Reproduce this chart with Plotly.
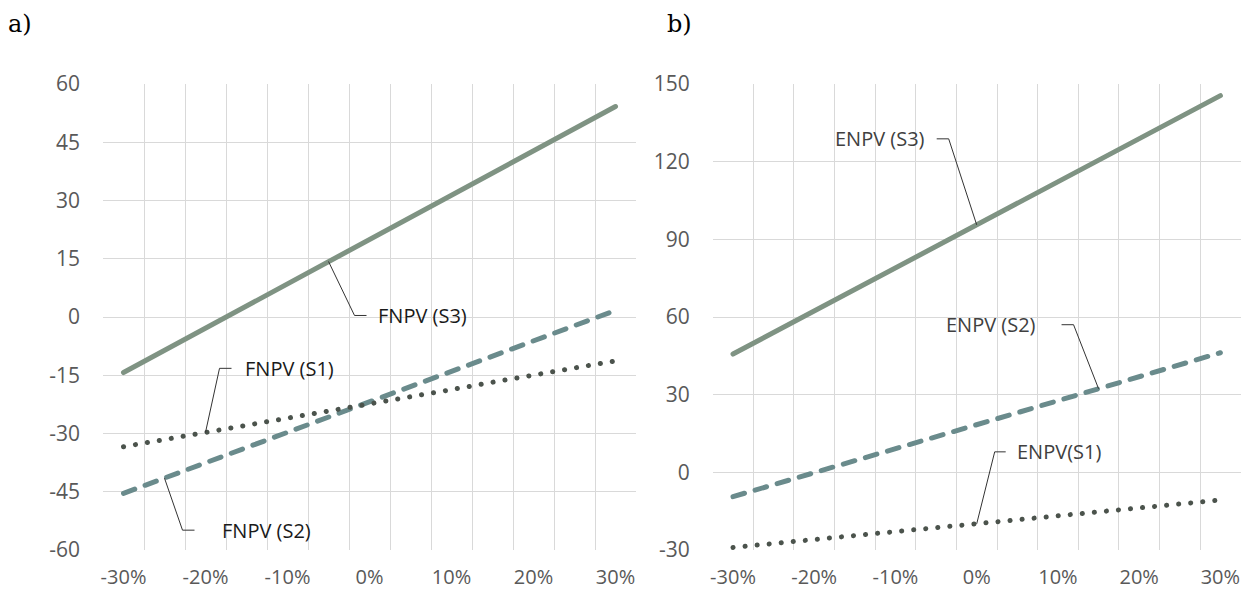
import plotly.graph_objects as go

# Sensitivity of the discount-rate change (-30% .. +30%, step 5%)
categories = ["-30%", "-25%", "-20%", "-15%", "-10%", "-5%", "0%",
              "5%", "10%", "15%", "20%", "25%", "30%"]
x_idx = list(range(len(categories)))

# Panel a) financial NPV
fnpv_s1 = [-33.4, -31.6, -29.7, -27.9, -26.0, -24.2, -22.4, -20.5, -18.7, -16.8, -15.0, -13.1, -11.3]
fnpv_s2 = [-45.4, -41.5, -37.6, -33.6, -29.7, -25.8, -21.9, -17.9, -14.0, -10.1, -6.2, -2.2, 1.7]
fnpv_s3 = [-14.3, -8.6, -2.9, 2.8, 8.5, 14.3, 20.0, 25.7, 31.4, 37.1, 42.8, 48.5, 54.2]

# Panel b) economic NPV
enpv_s1 = [-29.0, -27.5, -26.0, -24.4, -22.9, -21.4, -19.9, -18.3, -16.8, -15.3, -13.8, -12.2, -10.7]
enpv_s2 = [-9.4, -4.8, -0.1, 4.5, 9.1, 13.8, 18.4, 23.0, 27.7, 32.3, 36.9, 41.6, 46.2]
enpv_s3 = [45.7, 54.0, 62.3, 70.7, 79.0, 87.3, 95.6, 103.9, 112.2, 120.6, 128.9, 137.2, 145.5]

# Axis ticks
x_tick_idx = [0, 2, 4, 6, 8, 10, 12]
x_tick_text = [categories[i] for i in x_tick_idx]
ya_ticks = [-60, -45, -30, -15, 0, 15, 30, 45, 60]
ya_text = ["-60", "-45", "-30", "-15", "0", "15", "30", "45", "60"]
yb_ticks = [-30, 0, 30, 60, 90, 120, 150]
yb_text = ["-30", "0", "30", "60", "90", "120", "150"]

COL_S1 = "#4b534c"
COL_S2 = "#6a8b8c"
COL_S3 = "#7f9383"
GRID = "#d9d9d9"
TICK = "#595959"
FONT = "Open Sans"

fig = go.Figure()


def add_series(xa, ya, s1, s2, s3):
    fig.add_trace(go.Scatter(x=x_idx, y=s3, mode="lines", xaxis=xa, yaxis=ya,
                             line=dict(color=COL_S3, width=5)))
    fig.add_trace(go.Scatter(x=x_idx, y=s2, mode="lines", xaxis=xa, yaxis=ya,
                             line=dict(color=COL_S2, width=5, dash="12px,11px")))
    fig.add_trace(go.Scatter(x=x_idx, y=s1, mode="lines", xaxis=xa, yaxis=ya,
                             line=dict(color=COL_S1, width=5, dash="0.1px,12px")))


add_series("x", "y", fnpv_s1, fnpv_s2, fnpv_s3)
add_series("x2", "y2", enpv_s1, enpv_s2, enpv_s3)


def xaxis_cfg(domain, anchor):
    return dict(domain=domain, anchor=anchor, range=[-0.5, 12.5], automargin=False,
                tickmode="array", tickvals=x_tick_idx, ticktext=x_tick_text,
                showgrid=False, zeroline=False, showline=False, ticks="",
                ticklabelstandoff=13,
                tickfont=dict(family=FONT, size=20, color=TICK),
                minor=dict(tickmode="linear", tick0=-0.5, dtick=1,
                           showgrid=True, gridcolor=GRID, gridwidth=1.3, ticks=""))


def yaxis_cfg(domain, anchor, rng, ticks, text):
    return dict(domain=domain, anchor=anchor, range=rng, automargin=False,
                tickmode="array", tickvals=ticks, ticktext=text,
                showgrid=True, gridcolor=GRID, gridwidth=1.3,
                zeroline=False, showline=False, ticks="",
                ticklabelstandoff=22,
                tickfont=dict(family=FONT, size=21, color=TICK))


W, H = 1248, 593
y_dom = [1 - 550 / H, 1 - 84 / H]
fig.update_layout(
    width=W, height=H, margin=dict(l=0, r=0, t=0, b=0, autoexpand=False),
    paper_bgcolor="white", plot_bgcolor="white", showlegend=False,
    xaxis=xaxis_cfg([103 / W, 636 / W], "y"),
    yaxis=yaxis_cfg(y_dom, "x", [-60, 60], ya_ticks, ya_text),
    xaxis2=xaxis_cfg([712.7 / W, 1240.7 / W], "y2"),
    yaxis2=yaxis_cfg(y_dom, "x2", [-30, 150], yb_ticks, yb_text),
)

# Leader lines with an elbow, anchored on a data point; offsets in pixels (up = +)
labels = [
    # (xref, yref, series, index, elbow dx, elbow dy, end dx, text, side, text dx, text colour)
    ("x", "y", fnpv_s3, 5, 26, -54, 38, "FNPV (S3)", "left", 47, "#1a1a1a"),
    ("x", "y", fnpv_s1, 2, 14, 64, 26, "FNPV (S1)", "left", 37, "#1a1a1a"),
    ("x", "y", fnpv_s2, 1, 18, -52, 30, "FNPV (S2)", "left", 55, "#1a1a1a"),
    ("x2", "y2", enpv_s3, 6, -28, 86, -40, "ENPV (S3)", "right", -50, "#404040"),
    ("x2", "y2", enpv_s2, 9, -25, 64, -37, "ENPV (S2)", "right", -61, "#404040"),
    ("x2", "y2", enpv_s1, 6, 18, 72, 29, "ENPV(S1)", "left", 38, "#404040"),
]
for xr, yr, series, i, ex, ey, endx, text, side, tdx, tcol in labels:
    fig.add_shape(type="path", xref=xr, yref=yr,
                  xsizemode="pixel", ysizemode="pixel",
                  xanchor=x_idx[i], yanchor=series[i],
                  path=f"M0,0 L{ex},{ey} L{endx},{ey}",
                  line=dict(color="#333333", width=1))
    fig.add_annotation(x=x_idx[i], y=series[i], xref=xr, yref=yr,
                       text=text, showarrow=False, xanchor=side, yanchor="middle",
                       xshift=tdx, yshift=ey,
                       font=dict(family=FONT, size=20, color=tcol))

# Panel letters
for px, letter in [(6, "a)"), (665, "b)")]:
    fig.add_annotation(x=px / W, y=1 - 24 / H, xref="paper", yref="paper",
                       text=letter, showarrow=False, xanchor="left", yanchor="middle",
                       font=dict(family="DejaVu Serif", size=24, color="#000000"))

# Rounded caps so the dashes and dots come out as pills and round dots
round_caps = """
var gd = document.getElementById('{plot_id}');
function roundCaps() {
  gd.querySelectorAll('.scatterlayer .js-line').forEach(function (p) {
    p.style.strokeLinecap = 'round';
  });
}
roundCaps();
gd.on('plotly_afterplot', roundCaps);
setTimeout(roundCaps, 50);
"""

fig.write_html("out.html", post_script=round_caps)
